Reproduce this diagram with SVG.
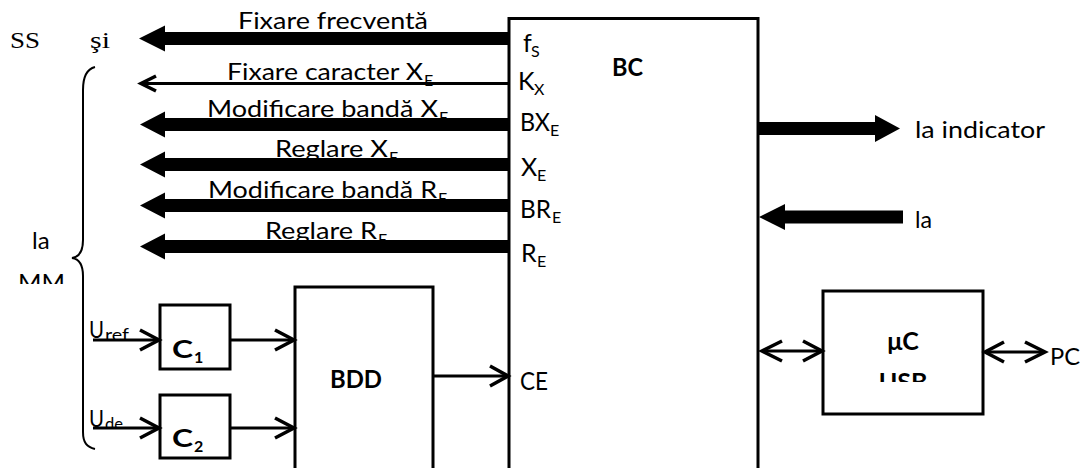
<svg xmlns="http://www.w3.org/2000/svg" width="1083" height="468" viewBox="0 0 1083 468">
<style>
.box{fill:#fff;stroke:#000;stroke-width:3}
.t{font-family:Lato,"Open Sans",sans-serif;font-size:24px;fill:#000}
.p{font-family:Lato,"Open Sans",sans-serif;font-size:25px;fill:#000}
.s{font-family:Lato,"Open Sans",sans-serif;font-size:16px;fill:#000}
.u{font-family:Lato,"Open Sans",sans-serif;font-size:17px;fill:#000}
.b{font-family:Lato,"Open Sans",sans-serif;font-size:25px;font-weight:bold;fill:#000}
.bs{font-family:Lato,"Open Sans",sans-serif;font-size:16px;font-weight:bold;fill:#000}
.tm{font-family:"Liberation Serif","DejaVu Serif",serif;font-size:24px;fill:#000}
.fat{fill:#000;stroke:none}
.ln{fill:none;stroke:#000;stroke-width:3}
.chev{fill:none;stroke:#000;stroke-width:3.5;stroke-linejoin:miter}
</style>
<defs>
<clipPath id="clipMM"><rect x="0" y="260" width="80" height="24"/></clipPath>
<clipPath id="clipUSB"><rect x="850" y="360" width="110" height="22"/></clipPath>
<clipPath id="clipUref"><rect x="85" y="310" width="60" height="30"/></clipPath>
<clipPath id="clipUde"><rect x="85" y="400" width="60" height="28"/></clipPath>
</defs>
<rect width="1083" height="468" fill="#fff"/>

<g id="left-labels">
<text class="tm" x="10" y="48" textLength="30" lengthAdjust="spacingAndGlyphs">SS</text>
<text class="tm" x="90" y="48" textLength="20" lengthAdjust="spacingAndGlyphs">şi</text>
<text class="t" x="32" y="249">la</text>
<text class="t" x="18" y="291" textLength="47" lengthAdjust="spacingAndGlyphs" clip-path="url(#clipMM)">MM</text>
<path class="ln" style="stroke-width:2" d="M95,67 C87,69 83,76 83,90 L83,240 C83,252 79,257 72,258 C79,259 83,264 83,276 L83,432 C83,443 87,447 95,449"/>
</g>

<g id="arrow-labels">
<text class="t" x="238" y="29" textLength="190" lengthAdjust="spacingAndGlyphs">Fixare frecventă</text>
<text class="t" x="227" y="80" textLength="196" lengthAdjust="spacingAndGlyphs">Fixare caracter X</text>
<text class="s" x="424" y="86">E</text>
<text class="t" x="207" y="117" textLength="231" lengthAdjust="spacingAndGlyphs">Modificare bandă X</text>
<text class="s" x="439" y="123">E</text>
<text class="t" x="275" y="157" textLength="113" lengthAdjust="spacingAndGlyphs">Reglare X</text>
<text class="s" x="389" y="163">E</text>
<text class="t" x="208" y="198" textLength="229" lengthAdjust="spacingAndGlyphs">Modificare bandă R</text>
<text class="s" x="438" y="204">E</text>
<text class="t" x="265" y="239" textLength="112" lengthAdjust="spacingAndGlyphs">Reglare R</text>
<text class="s" x="378" y="245">E</text>
</g>

<g id="BC">
<path class="box" d="M509,475 V18.5 H758 V475"/>
<text class="b" x="612" y="76" textLength="31" lengthAdjust="spacingAndGlyphs">BC</text>
<text class="p" x="523" y="52">f</text><text class="s" x="531" y="57">S</text>
<text class="p" x="518" y="90">K</text><text class="s" x="534" y="95">X</text>
<text class="p" x="520" y="131" textLength="30" lengthAdjust="spacingAndGlyphs">BX</text><text class="s" x="550" y="136">E</text>
<text class="p" x="521" y="176">X</text><text class="s" x="537" y="181">E</text>
<text class="p" x="520" y="218" textLength="31" lengthAdjust="spacingAndGlyphs">BR</text><text class="s" x="552" y="223">E</text>
<text class="p" x="521" y="262">R</text><text class="s" x="537" y="267">E</text>
<text class="p" x="520" y="390" textLength="28" lengthAdjust="spacingAndGlyphs">CE</text>
</g>

<g id="BDD">
<path class="box" d="M295,475 V287 H433 V475"/>
<text class="b" x="330" y="388" textLength="52" lengthAdjust="spacingAndGlyphs">BDD</text>
</g>

<g id="C1">
<rect class="box" x="160" y="305" width="70" height="64"/>
<text class="b" x="172" y="358" textLength="21" lengthAdjust="spacingAndGlyphs">C</text><text class="bs" x="194" y="363">1</text>
</g>

<g id="C2">
<rect class="box" x="160" y="395" width="70" height="63"/>
<text class="b" x="172" y="447" textLength="21" lengthAdjust="spacingAndGlyphs">C</text><text class="bs" x="194" y="452">2</text>
</g>

<g id="uC-USB">
<rect class="box" x="823" y="291" width="160" height="123"/>
<text class="b" x="903" y="350" text-anchor="middle">μC</text>
<text class="b" x="903" y="391" text-anchor="middle" clip-path="url(#clipUSB)">USB</text>
</g>

<g id="inputs">
<g clip-path="url(#clipUref)"><text class="t" x="89" y="338" textLength="15" lengthAdjust="spacingAndGlyphs">U</text><text class="u" x="105" y="341" textLength="24" lengthAdjust="spacingAndGlyphs">ref</text></g>
<g clip-path="url(#clipUde)"><text class="t" x="89" y="427" textLength="15" lengthAdjust="spacingAndGlyphs">U</text><text class="u" x="105" y="430" textLength="18" lengthAdjust="spacingAndGlyphs">de</text></g>
</g>

<g id="right-labels">
<text class="t" x="915" y="138" textLength="130" lengthAdjust="spacingAndGlyphs">la indicator</text>
<text class="t" x="915" y="228" textLength="17" lengthAdjust="spacingAndGlyphs">la</text>
<text class="t" x="1050" y="365" textLength="30" lengthAdjust="spacingAndGlyphs">PC</text>
</g>

<g id="connectors">
<polygon class="fat" points="509,32 165,32 165,25.5 139,38.5 165,51.5 165,45 509,45"/>
<line class="ln" x1="142" y1="83.5" x2="509" y2="83.5"/>
<polyline class="chev" points="156,76 141,83.5 156,91"/>
<polygon class="fat" points="509,118 165,118 165,111.5 140,124.5 165,137.5 165,131 509,131"/>
<polygon class="fat" points="509,158 165,158 165,151.5 140,164.5 165,177.5 165,171 509,171"/>
<polygon class="fat" points="509,199 165,199 165,192.5 140,205.5 165,218.5 165,212 509,212"/>
<polygon class="fat" points="509,240 165,240 165,233.5 140,246.5 165,259.5 165,253 509,253"/>
<polygon class="fat" points="758,122 875,122 875,115 900,128.5 875,142 875,135 758,135"/>
<polygon class="fat" points="903,210.5 785,210.5 785,204 759,217 785,230 785,223.5 903,223.5"/>

<line class="ln" x1="93" y1="340" x2="158" y2="340"/>
<polyline class="chev" points="140,330 159,340 140,350"/>
<line class="ln" x1="93" y1="428" x2="158" y2="428"/>
<polyline class="chev" points="140,418 159,428 140,438"/>
<line class="ln" x1="230" y1="340" x2="293" y2="340"/>
<polyline class="chev" points="275,330 294,340 275,350"/>
<line class="ln" x1="230" y1="428" x2="293" y2="428"/>
<polyline class="chev" points="275,418 294,428 275,438"/>
<line class="ln" x1="433" y1="376" x2="507" y2="376"/>
<polyline class="chev" points="490,366 508,376 490,386"/>

<line class="ln" x1="762" y1="351" x2="821" y2="351"/>
<polyline class="chev" points="782,341 762,351 782,361"/>
<polyline class="chev" points="803,341 822,351 803,361"/>
<line class="ln" x1="986" y1="352" x2="1044" y2="352"/>
<polyline class="chev" points="1004,342 985,352 1004,362"/>
<polyline class="chev" points="1025,342 1045,352 1025,362"/>
</g>
</svg>
